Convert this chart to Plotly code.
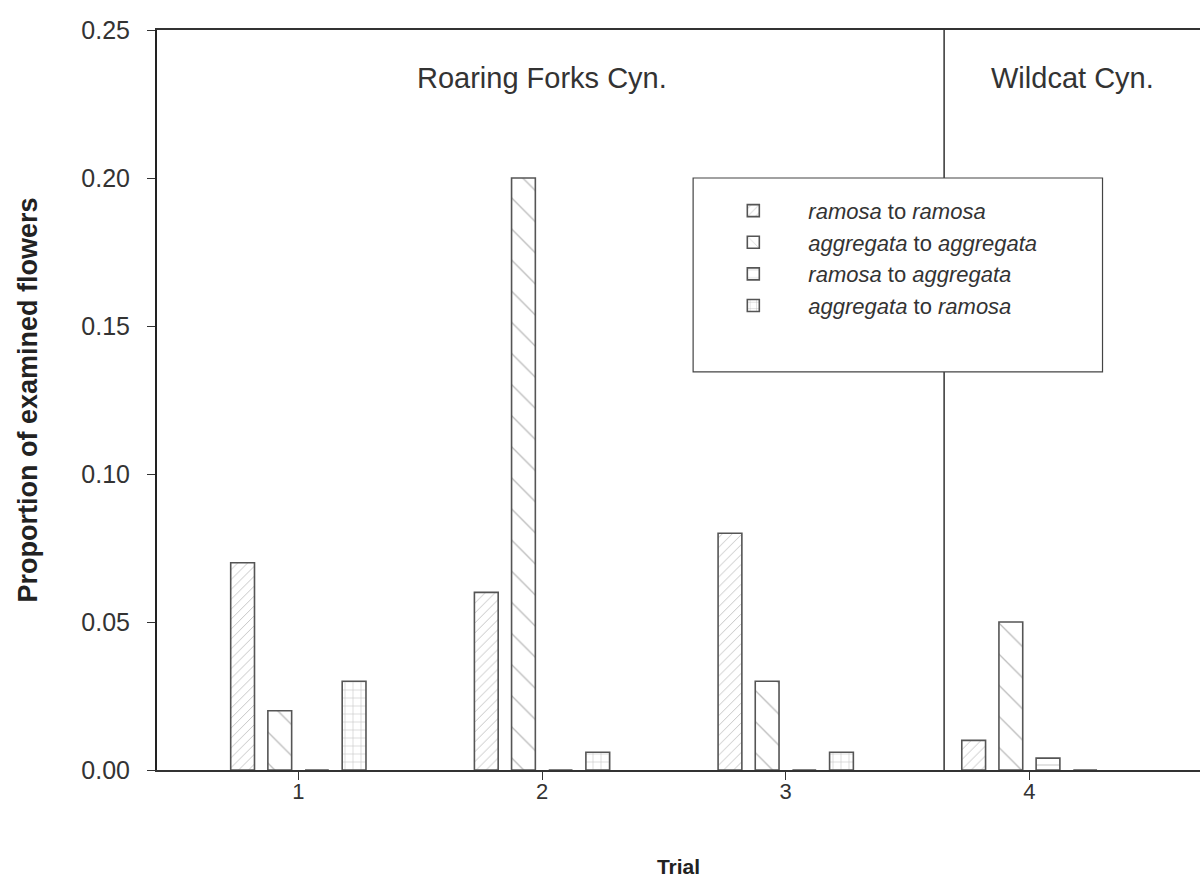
import plotly.graph_objects as go

trials = [1, 2, 3, 4]
tick_labels = ["1", "2", "3", "4"]
ramosa_to_ramosa = [0.07, 0.06, 0.08, 0.01]
aggregata_to_aggregata = [0.02, 0.20, 0.03, 0.05]
ramosa_to_aggregata = [0.0, 0.0, 0.0, 0.004]
aggregata_to_ramosa = [0.03, 0.006, 0.006, 0.0]

series_names = [
    "<i>ramosa</i> to <i>ramosa</i>",
    "<i>aggregata</i> to <i>aggregata</i>",
    "<i>ramosa</i> to <i>aggregata</i>",
    "<i>aggregata</i> to <i>ramosa</i>",
]
series_values = [ramosa_to_ramosa, aggregata_to_aggregata, ramosa_to_aggregata, aggregata_to_ramosa]
patterns = [("/", 7, 0.12), ("\\", 22, 0.06), ("-", 14, 0.06), ("+", 8, 0.12)]

fig = go.Figure()
for name, vals, (shape, size, sol) in zip(series_names, series_values, patterns):
    fig.add_trace(go.Bar(
        x=trials, y=vals, name=name,
        marker=dict(color="white",
                    line=dict(color="#555555", width=1.6),
                    pattern=dict(shape=shape, size=size, solidity=sol,
                                 fgcolor="#777777", bgcolor="white", fillmode="overlay")),
    ))

font_main = "Liberation Sans, Arial, sans-serif"
font_narrow = "Liberation Sans Narrow, Arial Narrow, Liberation Sans, sans-serif"
fig.update_layout(
    width=1200, height=892,
    margin=dict(l=157, r=0, t=30, b=122),
    paper_bgcolor="white", plot_bgcolor="white",
    barmode="group", bargap=0.39, bargroupgap=0.36,
    font=dict(family=font_main, size=22, color="#333333"),
    showlegend=True,
    legend=dict(x=0.519, y=0.784, xanchor="left", yanchor="top",
                bgcolor="rgba(0,0,0,0)", borderwidth=0,
                font=dict(size=22, color="#333333"), itemwidth=100,
                tracegroupgap=0),
    xaxis=dict(range=[0.42, 4.70], tickvals=trials, ticktext=tick_labels,
               showgrid=False, zeroline=False, showline=True, linecolor="#333333",
               linewidth=1.5, mirror=True, ticks="outside", ticklen=8, tickcolor="#333333",
               tickfont=dict(size=22, color="#333333"), ticklabelstandoff=-7,
               title=dict(text="<b>Trial</b>", standoff=56,
                          font=dict(family=font_narrow, size=21, color="#222222"))),
    yaxis=dict(range=[0, 0.25], tickvals=[0, 0.05, 0.10, 0.15, 0.20, 0.25],
               tickformat=".2f", showgrid=False, zeroline=False, showline=True,
               linecolor="#222222", linewidth=2, ticks="outside", ticklen=8, tickcolor="#333333",
               tickfont=dict(size=25, color="#333333"), ticklabelstandoff=12,
               title=dict(text="<b>Proportion of examined flowers</b>", standoff=36,
                          font=dict(family=font_narrow, size=27, color="#222222"))),
)

fig.add_shape(type="line", xref="x", yref="paper", x0=3.65, x1=3.65, y0=0, y1=1,
              line=dict(color="#333333", width=1.5))
fig.add_shape(type="rect", xref="x", yref="paper", x0=2.62, x1=4.30, y0=0.538, y1=0.80,
              fillcolor="white", line=dict(color="#444444", width=1.2))
fig.add_annotation(x=2.0, y=0.959, xref="x", yref="paper", text="Roaring Forks Cyn.",
                   showarrow=False, font=dict(size=29, color="#333333"))
fig.add_annotation(x=4.175, y=0.959, xref="x", yref="paper", text="Wildcat Cyn.",
                   showarrow=False, font=dict(size=29, color="#333333"))

fig.write_html("out.html", config={"displayModeBar": False},
               post_script="document.body.style.margin='0';")
